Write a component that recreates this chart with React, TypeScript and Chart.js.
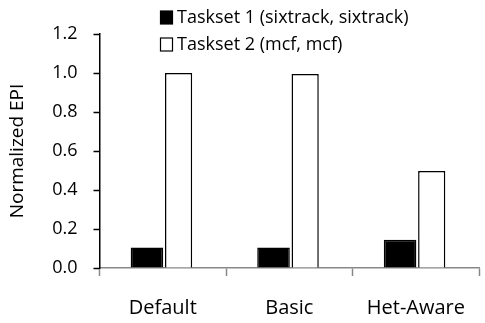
import React, { useEffect, useRef } from "react";
import { Chart, registerables } from "chart.js";

Chart.register(...registerables);

const categories = ["Default", "Basic", "Het-Aware"];
const seriesNames = ["Taskset 1 (sixtrack, sixtrack)", "Taskset 2 (mcf, mcf)"];
const taskset1 = [0.105, 0.105, 0.145];
const taskset2 = [1.0, 0.995, 0.497];
const yMin = 0;
const yMax = 1.2;
const yStep = 0.2;
const yTitle = "Normalized EPI";

const FONT = "'Open Sans', Lato, 'DejaVu Sans', sans-serif";

const stackLegend = {
  id: "stackLegend",
  afterDraw(chart: any) {
    const ctx = chart.ctx;
    ctx.save();
    chart.data.datasets.forEach((ds: any, i: number) => {
      const y = 17.5 + i * 27;
      ctx.fillStyle = ds.backgroundColor;
      ctx.strokeStyle = "#000";
      ctx.lineWidth = 1.2;
      ctx.fillRect(160.5, y - 6.5, 12, 13);
      ctx.strokeRect(160.5, y - 6.5, 12, 13);
      ctx.fillStyle = "#000";
      ctx.font = `18px ${FONT}`;
      ctx.textBaseline = "middle";
      ctx.textAlign = "left";
      ctx.fillText(ds.label, 177, y);
    });
    ctx.restore();
  },
};

export default function App() {
  const ref = useRef<HTMLCanvasElement | null>(null);

  useEffect(() => {
    document.body.style.margin = "0";
    const chart = new Chart(ref.current as HTMLCanvasElement, {
      type: "bar",
      data: {
        labels: categories,
        datasets: [
          {
            label: seriesNames[0],
            data: taskset1,
            backgroundColor: "#000000",
            borderColor: "#000000",
            borderWidth: 1.5,
            barPercentage: 1.03,
            categoryPercentage: 0.5,
          },
          {
            label: seriesNames[1],
            data: taskset2,
            backgroundColor: "#ffffff",
            borderColor: "#000000",
            borderWidth: 1.5,
            barPercentage: 0.86,
            categoryPercentage: 0.5,
          },
        ],
      },
      options: {
        animation: false,
        responsive: true,
        maintainAspectRatio: false,
        layout: { padding: { top: 34, right: 0, left: 0, bottom: 0 } },
        plugins: {
          legend: { display: false },
          tooltip: { enabled: false },
        },
        scales: {
          x: {
            grid: {
              display: true,
              drawOnChartArea: false,
              drawTicks: true,
              tickLength: 8,
              tickColor: "#888888",
              tickWidth: 1.5,
              offset: true,
            },
            border: { display: true, color: "#888888", width: 1.5 },
            ticks: {
              color: "#000",
              padding: 20,
              font: { family: FONT, size: 20 },
            },
            afterFit: (s: any) => {
              s.height = 55;
            },
          },
          y: {
            min: yMin,
            max: yMax,
            grid: {
              display: true,
              drawOnChartArea: false,
              drawTicks: true,
              tickLength: 6,
              tickColor: "#000",
              tickWidth: 1.5,
            },
            border: { display: true, color: "#000", width: 1.5 },
            ticks: {
              stepSize: yStep,
              color: "#000",
              padding: 16,
              font: { family: FONT, size: 18 },
              callback: (v: any) => Number(v).toFixed(1),
            },
            title: {
              display: true,
              text: yTitle,
              color: "#000",
              font: { family: FONT, size: 19 },
              padding: { top: 6, bottom: 0 },
            },
            afterFit: (s: any) => {
              s.width = 99.5;
            },
          },
        },
      },
      plugins: [stackLegend],
    });
    return () => chart.destroy();
  }, []);

  return (
    <div style={{ width: 485, height: 323, position: "relative" }}>
      <canvas ref={ref} />
    </div>
  );
}
